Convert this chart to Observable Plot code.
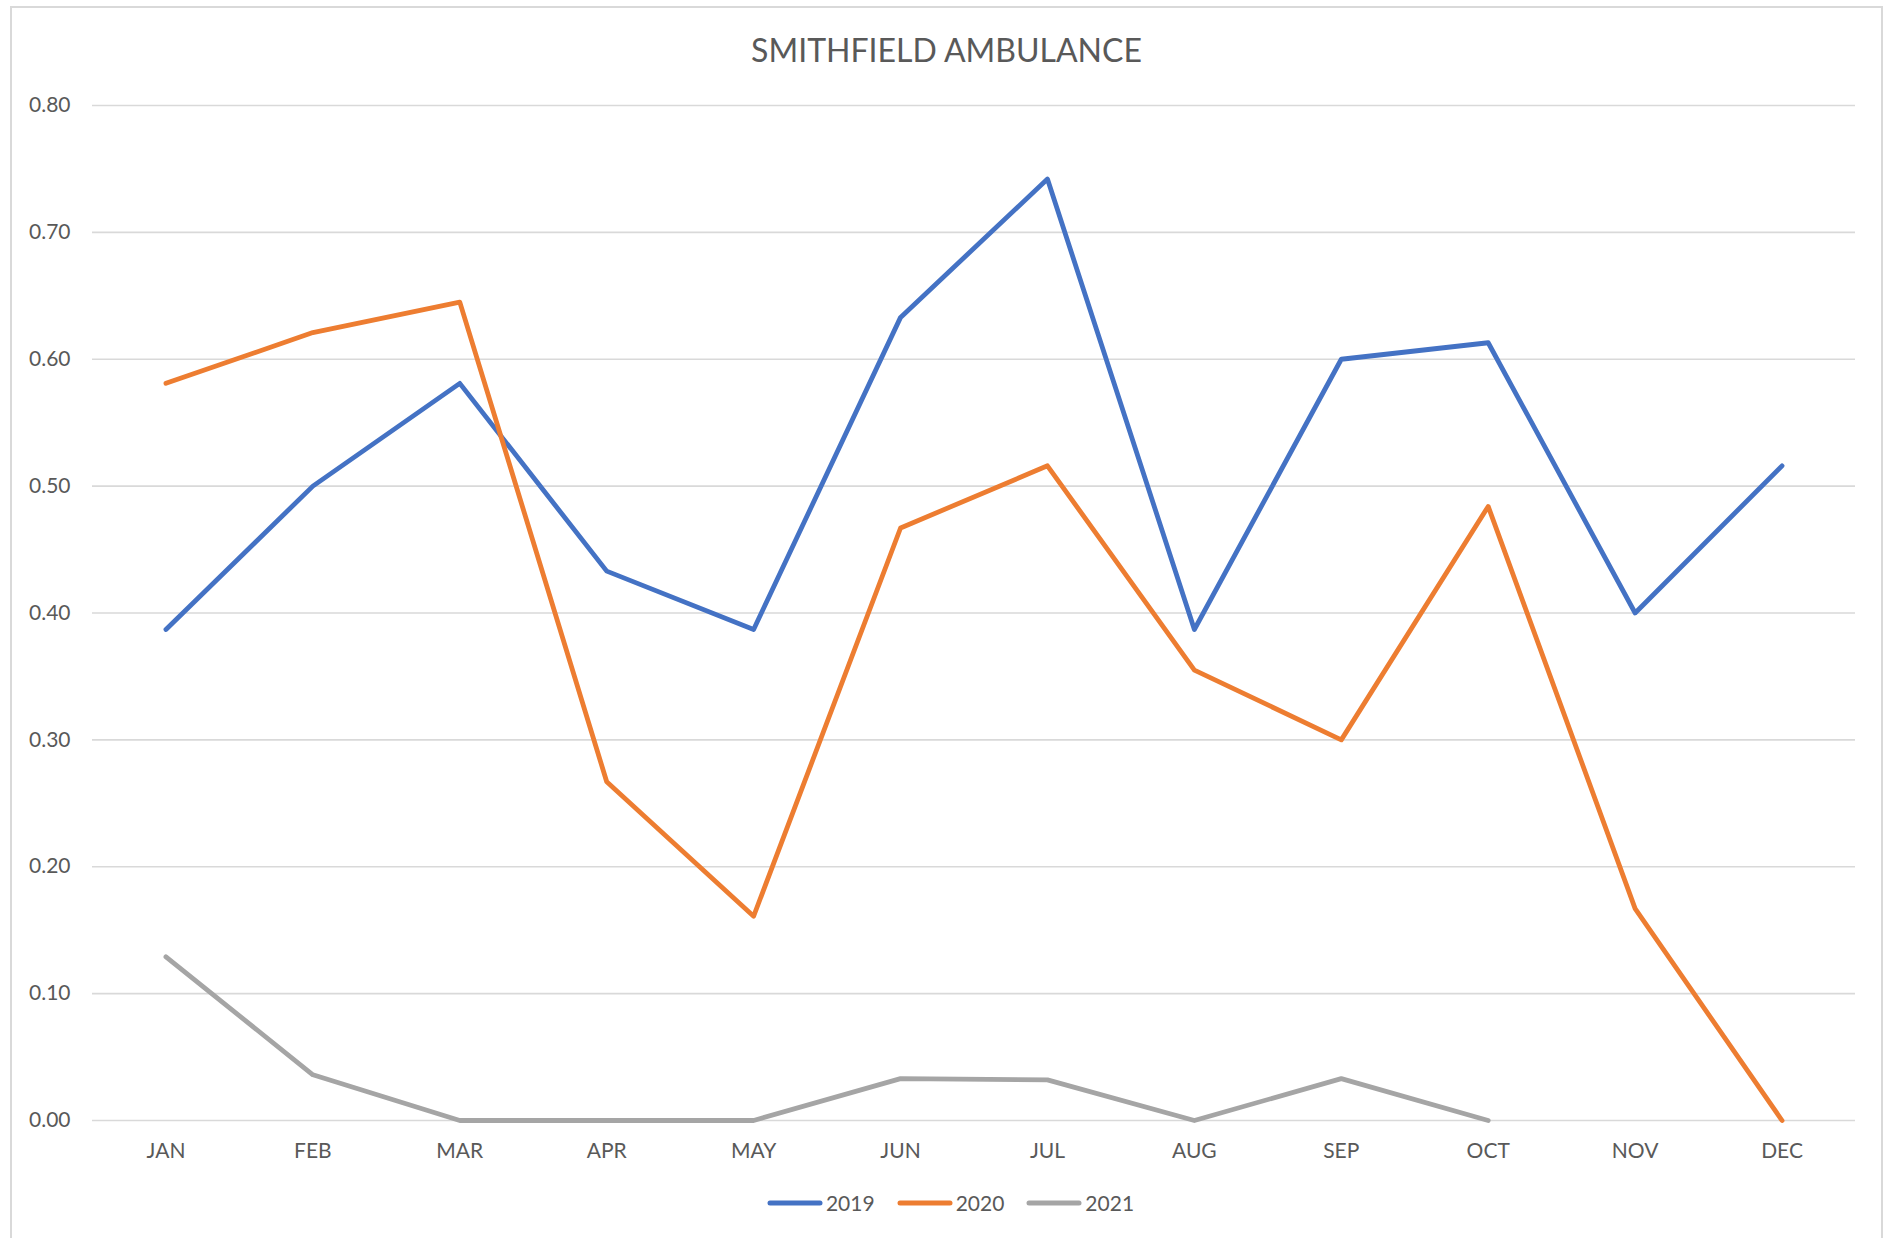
<!DOCTYPE html>
<html>
<head>
<meta charset="utf-8">
<script src="https://cdn.jsdelivr.net/npm/d3@7"></script>
<script src="https://cdn.jsdelivr.net/npm/@observablehq/plot@0.6"></script>
<style>
  html, body { margin: 0; padding: 0; background: #fff; overflow: hidden; }
  body { width: 1893px; height: 1238px; position: relative; font-family: Lato, "Open Sans", sans-serif; color: #595959; }
  #frame { position: absolute; left: 10px; top: 6px; width: 1873px; height: 1300px; border: 2px solid #d9d9d9; box-sizing: border-box; }
  #title { position: absolute; left: 0; top: 34px; width: 1893px; text-align: center; font-size: 32px; line-height: 31px; color: #595959; }
  #chart { position: absolute; left: 0; top: 0; }
  #legend { position: absolute; left: 4px; top: 1190px; width: 1893px; display: flex; justify-content: center; align-items: center; gap: 22px; font-size: 21px; line-height: 26px; color: #595959; }
  .item { display: flex; align-items: center; gap: 3px; }
  .item svg { display: block; }
</style>
</head>
<body>
<div id="frame"></div>
<div id="title"></div>
<div id="chart"></div>
<div id="legend"></div>
<script>
// Monthly averages per year
const chartTitle = "SMITHFIELD AMBULANCE";
const months = ["JAN", "FEB", "MAR", "APR", "MAY", "JUN", "JUL", "AUG", "SEP", "OCT", "NOV", "DEC"];
const years = ["2019", "2020", "2021"];
const colors = ["#4472c4", "#ed7d31", "#a5a5a5"];
const values2019 = [0.387, 0.500, 0.581, 0.433, 0.387, 0.633, 0.742, 0.387, 0.600, 0.613, 0.400, 0.516];
const values2020 = [0.581, 0.621, 0.645, 0.267, 0.161, 0.467, 0.516, 0.355, 0.300, 0.484, 0.167, 0.000];
const values2021 = [0.129, 0.036, 0.000, 0.000, 0.000, 0.033, 0.032, 0.000, 0.033, 0.000];
const yTicks = [0, 0.1, 0.2, 0.3, 0.4, 0.5, 0.6, 0.7, 0.8];

const series = [values2019, values2020, values2021];
const rows = series.flatMap((vals, i) =>
  vals.map((v, j) => ({ year: years[i], month: months[j], value: v }))
);

document.getElementById("title").textContent = chartTitle;

const chart = Plot.plot({
  width: 1893,
  height: 1238,
  marginLeft: 92,
  marginRight: 38,
  marginTop: 105,
  marginBottom: 118,
  style: { fontFamily: "Lato, 'Open Sans', sans-serif", fontSize: "21px", color: "#595959", background: "transparent", overflow: "visible" },
  x: { type: "point", domain: months, padding: 0.5, round: false, label: null },
  y: { domain: [0, 0.8], label: null },
  color: { domain: years, range: colors },
  marks: [
    Plot.ruleY(yTicks, { stroke: "#d9d9d9", strokeWidth: 1.6 }),
    Plot.axisY({ ticks: yTicks, tickFormat: d => d.toFixed(2), tickSize: 0, tickPadding: 22, label: null }),
    Plot.axisX({ tickSize: 0, tickPadding: 23, label: null }),
    Plot.line(rows, {
      x: "month", y: "value", z: "year", stroke: "year",
      strokeWidth: 4.8, strokeLinecap: "round", strokeLinejoin: "round"
    })
  ]
});
document.getElementById("chart").appendChild(chart);

// Line-swatch legend
const legend = document.getElementById("legend");
years.forEach((yr, i) => {
  const item = document.createElement("div");
  item.className = "item";
  item.innerHTML = `<svg width="56" height="10"><line x1="3" y1="5" x2="53" y2="5" stroke="${colors[i]}" stroke-width="5" stroke-linecap="round"/></svg><span>${yr}</span>`;
  legend.appendChild(item);
});
</script>
</body>
</html>
